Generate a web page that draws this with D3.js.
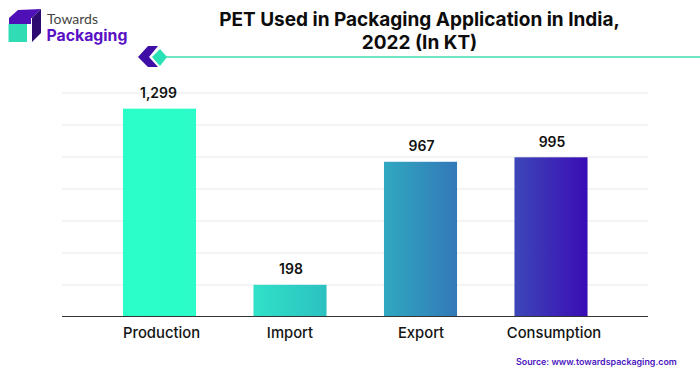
<!DOCTYPE html>
<html>
<head>
<meta charset="utf-8">
<script src="https://cdn.jsdelivr.net/npm/d3@7"></script>
<style>
  html, body { margin: 0; padding: 0; background: #fff; }
  svg { display: block; }
  text { font-family: Inter, Roboto, sans-serif; }
</style>
</head>
<body>
<div id="chart"></div>
<script>
const categories = ["Production", "Import", "Export", "Consumption"];
const values = [1299, 198, 967, 995];
const valueLabels = ["1,299", "198", "967", "995"];
const yTicks = [200, 400, 600, 800, 1000, 1200, 1400];
const titleLines = ["PET Used in Packaging Application in India,", "2022 (In KT)"];

const width = 700, height = 376;

const svg = d3.select("#chart").append("svg")
    .attr("width", width)
    .attr("height", height);

const x = d3.scaleBand()
    .domain(categories)
    .range([94.25, 616.25])
    .paddingInner(0.44)
    .paddingOuter(0.22);

const y = d3.scaleLinear()
    .domain([0, 1400])
    .range([316.5, 92.5]);

// Bars share one gradient running across the whole chart
const grad = svg.append("defs").append("linearGradient")
    .attr("id", "barGrad")
    .attr("gradientUnits", "userSpaceOnUse")
    .attr("x1", x(categories[0]))
    .attr("x2", x(categories[3]) + x.bandwidth())
    .attr("y1", 0)
    .attr("y2", 0);
[[0, "#2bffc8"], [0.16, "#2bfcc9"], [0.28, "#30e2c8"], [0.44, "#2cc0c0"],
 [0.56, "#30a9c0"], [0.72, "#3278b8"], [0.84, "#3d48b8"], [1, "#3a0cb5"]].forEach(s => {
    grad.append("stop").attr("offset", s[0]).attr("stop-color", s[1]);
});

// Gridlines
const grid = svg.append("g")
    .attr("transform", "translate(62,0)")
    .call(d3.axisLeft(y).tickValues(yTicks).tickSize(-586).tickFormat(""));
grid.select(".domain").remove();
grid.selectAll("line").attr("stroke", "#e9e9e9").attr("stroke-width", 1);

// Bars
svg.selectAll(".bar")
    .data(values)
    .enter()
    .append("rect")
    .attr("class", "bar")
    .attr("x", (d, i) => x(categories[i]))
    .attr("y", d => y(d))
    .attr("width", x.bandwidth())
    .attr("height", d => y(0) - y(d))
    .attr("fill", "url(#barGrad)");

// Baseline and category labels
const xAxis = svg.append("g")
    .attr("transform", `translate(0,${y(0)})`)
    .call(d3.axisBottom(x).tickSize(0).tickPadding(11));
xAxis.select(".domain").remove();
xAxis.selectAll("text")
    .attr("dx", (d, i) => [2, 0, 0.5, 3][i])
    .style("font-family", "Inter, Roboto, sans-serif")
    .style("font-size", "14.8px")
    .style("font-weight", 500)
    .attr("fill", "#141414");

svg.append("line")
    .attr("x1", 62).attr("x2", 648)
    .attr("y1", y(0)).attr("y2", y(0))
    .attr("stroke", "#333").attr("stroke-width", 1.2);

// Value labels
svg.selectAll(".value")
    .data(values)
    .enter()
    .append("text")
    .attr("class", "value")
    .attr("x", (d, i) => x(categories[i]) + x.bandwidth() / 2 + (i == 0 ? -1 : 1))
    .attr("y", d => y(d) - 10.5)
    .attr("text-anchor", "middle")
    .style("font-size", "14px")
    .style("font-weight", 600)
    .attr("fill", "#111")
    .text((d, i) => valueLabels[i]);

// Title
svg.selectAll(".title")
    .data(titleLines)
    .enter()
    .append("text")
    .attr("class", "title")
    .attr("x", 419.5)
    .attr("y", (d, i) => 26 + i * 23)
    .attr("text-anchor", "middle")
    .style("font-size", "19px")
    .style("font-weight", 700)
    .attr("fill", "#0c0c0c")
    .text(d => d);

// Divider under the title with its arrow mark
svg.append("line")
    .attr("x1", 162).attr("x2", 700)
    .attr("y1", 57).attr("y2", 57)
    .attr("stroke", "#3fdcb0").attr("stroke-width", 1.5);
svg.append("path")
    .attr("d", "M148,46 L158,46 L149,57 L158,67 L148,67 L138,57 Z")
    .attr("fill", "#3f0ea6");
svg.append("path")
    .attr("d", "M160,49 L167,57 L160,66 L152,57 Z")
    .attr("fill", "#2ae0b5");

// Logo
svg.append("path")
    .attr("d", "M9,18 L18,10 L41,9 L32,18 Z")
    .attr("fill", "#5010b8");
svg.append("rect")
    .attr("x", 9).attr("y", 18).attr("width", 22).attr("height", 6)
    .attr("fill", "#5010b8");
svg.append("path")
    .attr("d", "M32,18 L41,9 L41,33 L32,42 Z")
    .attr("fill", "#2c0a70");
svg.append("rect")
    .attr("x", 8.5).attr("y", 24).attr("width", 18.5).attr("height", 18)
    .attr("fill", "#2fdcb4");
svg.append("text")
    .attr("x", 47).attr("y", 23.5)
    .style("font-family", "Lato, sans-serif")
    .style("font-size", "14px")
    .attr("fill", "#444")
    .text("Towards");
svg.append("text")
    .attr("x", 46.5).attr("y", 40.5)
    .style("font-size", "15.8px")
    .style("font-weight", 700)
    .attr("fill", "#5a10c4")
    .text("Packaging");

// Source
svg.append("text")
    .attr("x", 516).attr("y", 365)
    .style("font-size", "8.9px")
    .style("font-weight", 600)
    .attr("fill", "#4a14c0")
    .text("Source: www.towardspackaging.com");
</script>
</body>
</html>
